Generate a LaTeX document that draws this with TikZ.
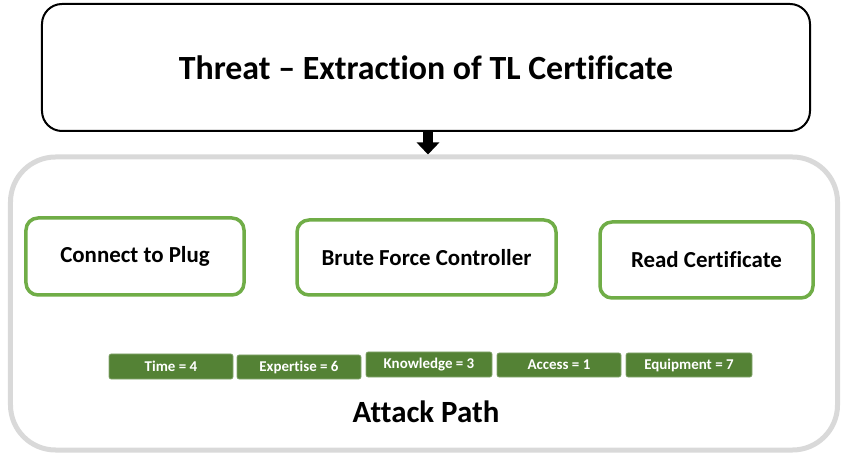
\documentclass[tikz,border=0pt]{standalone}
\usepackage{fontspec}
\setmainfont{Carlito}[Ligatures=NoCommon]
\usetikzlibrary{arrows.meta}
\definecolor{gborder}{HTML}{70AD47}
\definecolor{gtag}{HTML}{548235}
\definecolor{gframe}{HTML}{D9D9D9}
\tikzset{
  threatbox/.style={draw=black, line width=2bp, rounded corners=20bp, fill=white, inner sep=0pt,
    font=\fontsize{34}{40}\selectfont\bfseries},
  pathbox/.style={draw=gframe, line width=5bp, rounded corners=45bp, inner sep=0pt},
  stepbox/.style={draw=gborder, line width=3.5bp, rounded corners=12bp, fill=white, inner sep=0pt,
    font=\fontsize{23}{27}\selectfont\bfseries},
  tagbox/.style={fill=gtag, draw=gtag!70!white, line width=0.6bp, rounded corners=2bp, inner sep=0pt,
    text=white, font=\fontsize{15}{18}\selectfont\bfseries},
}
\begin{document}
\begin{tikzpicture}[x=1bp,y=-1bp]
\useasboundingbox (0,0) rectangle (846,455);
\node[pathbox, minimum width=827bp, minimum height=293bp] (path) at (424,303.5) {};
\node[threatbox, minimum width=768bp, minimum height=127bp] (threat) at (426,67.5) {Threat -- Extraction of TL Certificate};
\draw[line width=10bp, -{Triangle[width=22bp,length=12bp]}] (threat.south -| 428,0) -- (path.north -| 428,0);
\node[stepbox, minimum width=218bp, minimum height=77bp] (plug) at (135,256.5) {\raisebox{-2bp}{Connect to Plug}};
\node[stepbox, minimum width=259bp, minimum height=75bp] (brute) at (426.5,257.5) {\raisebox{-1bp}{Brute Force Controller}};
\node[stepbox, minimum width=213bp, minimum height=76bp] (read) at (706.5,260) {\raisebox{-1bp}{Read Certificate}};
\node[tagbox, minimum width=124bp, minimum height=25bp] (time) at (171,366.5) {Time = 4};
\node[tagbox, minimum width=124bp, minimum height=24bp] (expertise) at (299,367) {Expertise = 6};
\node[tagbox, minimum width=126bp, minimum height=25bp] (knowledge) at (429,364.5) {Knowledge = 3};
\node[tagbox, minimum width=124bp, minimum height=24bp] (access) at (559,365) {Access = 1};
\node[tagbox, minimum width=126bp, minimum height=24bp] (equipment) at (689,365) {Equipment = 7};
\node[font=\fontsize{31}{36}\selectfont\bfseries] (label) at (426,412) {Attack Path};
\end{tikzpicture}
\end{document}
